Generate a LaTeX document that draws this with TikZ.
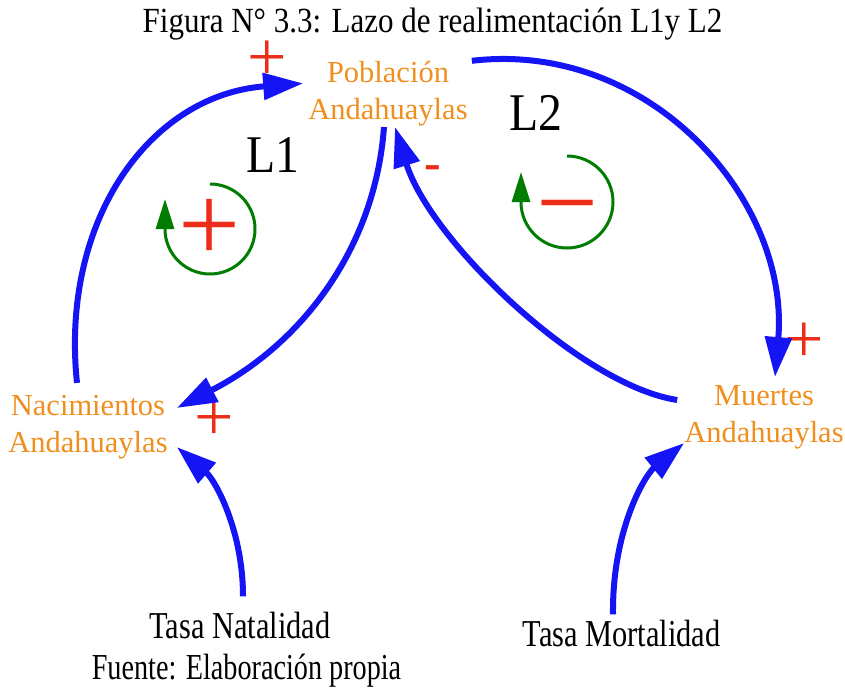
\documentclass[tikz,border=0pt]{standalone}
\usepackage{fontspec}
\setmainfont{Liberation Serif}
\usetikzlibrary{arrows.meta,calc}
\definecolor{cldorange}{RGB}{240,142,30}
\definecolor{cldblue}{RGB}{20,20,245}
\definecolor{cldred}{RGB}{235,45,25}
\definecolor{cldgreen}{RGB}{0,125,0}
\begin{document}
\begin{tikzpicture}[x=1pt,y=-1pt,
  var/.style={text=cldorange, align=center, inner sep=0pt, font=\fontsize{30.5}{37}\selectfont},
  plain/.style={inner sep=0pt, anchor=base},
  link/.style={draw=cldblue, line width=6pt, line cap=butt, -{Triangle[length=40pt,width=26pt]}},
  pol/.style={text=cldred, inner sep=0pt, font=\fontsize{70}{70}\selectfont},
  loopline/.style={draw=cldgreen, line width=3pt, -{Triangle[length=30pt,width=18pt]}},
  loopsign/.style={text=cldred, inner sep=0pt, font=\fontsize{110}{110}\selectfont}]
\useasboundingbox (0,0) rectangle (845,690);
% texts
\node[plain, font=\fontsize{31}{37}\selectfont] (title) at (432.5,33) {\scalebox{1}[1.14]{Figura N° 3.3: Lazo de realimentación L1y L2}};
\node[var] (pob) at (388,93.4) {Población\\Andahuaylas};
\node[var] (nac) at (88,427) {Nacimientos\\Andahuaylas};
\node[var] (mue) at (764,417) {Muertes\\Andahuaylas};
\node[plain, font=\fontsize{38}{40}\selectfont] (tn) at (240,638) {\scalebox{0.8}[1]{Tasa Natalidad}};
\node[plain, font=\fontsize{38}{40}\selectfont] (tm) at (621.5,646) {\scalebox{0.8}[1]{Tasa Mortalidad}};
\node[plain, font=\fontsize{31}{37}\selectfont] (src) at (246.5,679) {\scalebox{0.91}[1.18]{Fuente: Elaboración propia}};
\node[plain, font=\fontsize{53}{55}\selectfont] (l1) at (273,172) {\scalebox{0.9}[1]{L1}};
\node[plain, font=\fontsize{53}{55}\selectfont] (l2) at (536,130) {\scalebox{0.9}[1]{L2}};
% polarity signs
\node[pol] (s1) at (267,61) {+};
\node[pol] (s2) at (214,421) {+};
\node[pol] (s4) at (804,343) {+};
\node[pol, font=\bfseries\fontsize{50}{50}\selectfont] (s3) at (433,172.5) {-};
% loop symbols
\draw[loopline] (210,184) arc[start angle=90,end angle=-180,radius=45pt] -- ++(0,-30);
\node[loopsign] (lp1) at (210,230) {+};
\draw[loopline] (567,156) arc[start angle=90,end angle=-180,radius=46pt] -- ++(0,-30);
\node[loopsign] (lm2) at (568,220) {−};
% connectors
\draw[link] ($(nac.north)+(-11,-12)$) .. controls (60,220) and (150,95) .. ($(pob.west)+(-5,-10)$);
\draw[link] ($(pob.south)+(-4,1)$) .. controls (375,250) and (300,345) .. ($(nac.east)+(9,-19)$);
\draw[link] ($(mue.west)+(-7,-17)$) .. controls (580,385) and (430,240) .. ($(pob.south)+(7,1)$);
\draw[link] ($(pob.north east)+(4,0)$) .. controls (650,40) and (790,200) .. ($(mue.north)+(11,-8)$);
\draw[link] ($(tn.north)+(3,-15)$) .. controls (243,530) and (215,480) .. ($(nac.east)+(9,20)$);
\draw[link] ($(tm.north)+(-8.5,-5)$) .. controls (612,530) and (645,475) .. ($(mue.west)+(0,26)$);
\end{tikzpicture}
\end{document}
